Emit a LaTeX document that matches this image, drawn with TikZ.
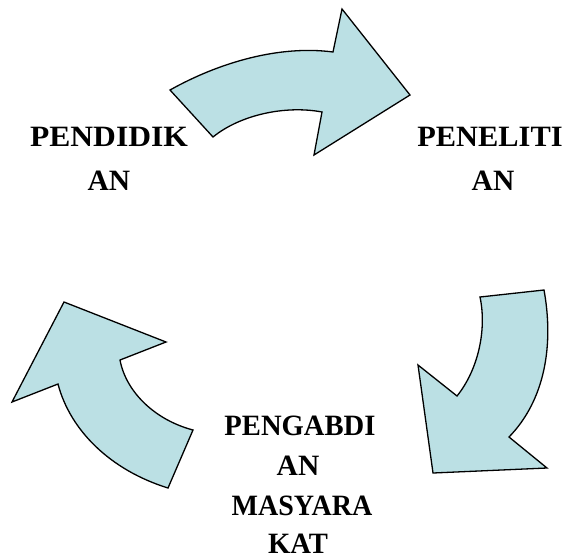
\documentclass[tikz,border=0pt]{standalone}
\usepackage{graphicx}
\usepackage{fontspec}
\setmainfont{Liberation Serif}
\definecolor{cyclefill}{RGB}{187,224,228}
\newcommand{\hstretch}[2]{\scalebox{#1}[1]{#2}}
\begin{document}
\begin{tikzpicture}[x=1pt,y=-1pt,
  cyclearrow/.style={draw=black,fill=cyclefill,line width=1.3pt,line join=miter},
  label/.style={font=\fontsize{29.5}{30}\selectfont\bfseries,anchor=base,inner sep=0pt}]
\useasboundingbox (0,0) rectangle (569,557);

% curved arrow: PENDIDIKAN -> PENELITIAN
\draw[cyclearrow] (170,90) .. controls (220,62) and (280,45) .. (333,52)
  -- (342,9) -- (410,95) -- (314,155) -- (322,112)
  .. controls (285,105) and (240,115) .. (213,137) -- cycle;

% curved arrow: PENELITIAN -> PENGABDIAN MASYARAKAT
\draw[cyclearrow] (480,297) -- (544,290)
  .. controls (554,345) and (545,400) .. (509,437)
  -- (547,468) -- (433,473) -- (418,365) -- (457,396)
  .. controls (478,370) and (487,330) .. (480,297) -- cycle;

% curved arrow: PENGABDIAN MASYARAKAT -> PENDIDIKAN
\draw[cyclearrow] (193,430) -- (168,488)
  .. controls (110,470) and (70,430) .. (58,384)
  -- (12,402) -- (64,302) -- (166,342) -- (120,360)
  .. controls (126,392) and (155,420) .. (193,430) -- cycle;

% labels
\node[label] (pend1) at (109,146) {\hstretch{1.07}{PENDIDIK}};
\node[label] (pend2) at (109,190) {AN};
\node[label] (pene1) at (490,146) {\hstretch{1.03}{PENELITI}};
\node[label] (pene2) at (493,190) {AN};
\node[label] (peng1) at (300,435) {\hstretch{0.97}{PENGABDI}};
\node[label] (peng2) at (298,475) {AN};
\node[label] (peng3) at (302,515) {\hstretch{0.95}{MASYARA}};
\node[label] (peng4) at (298,553) {\hstretch{0.97}{KAT}};
\end{tikzpicture}
\end{document}
